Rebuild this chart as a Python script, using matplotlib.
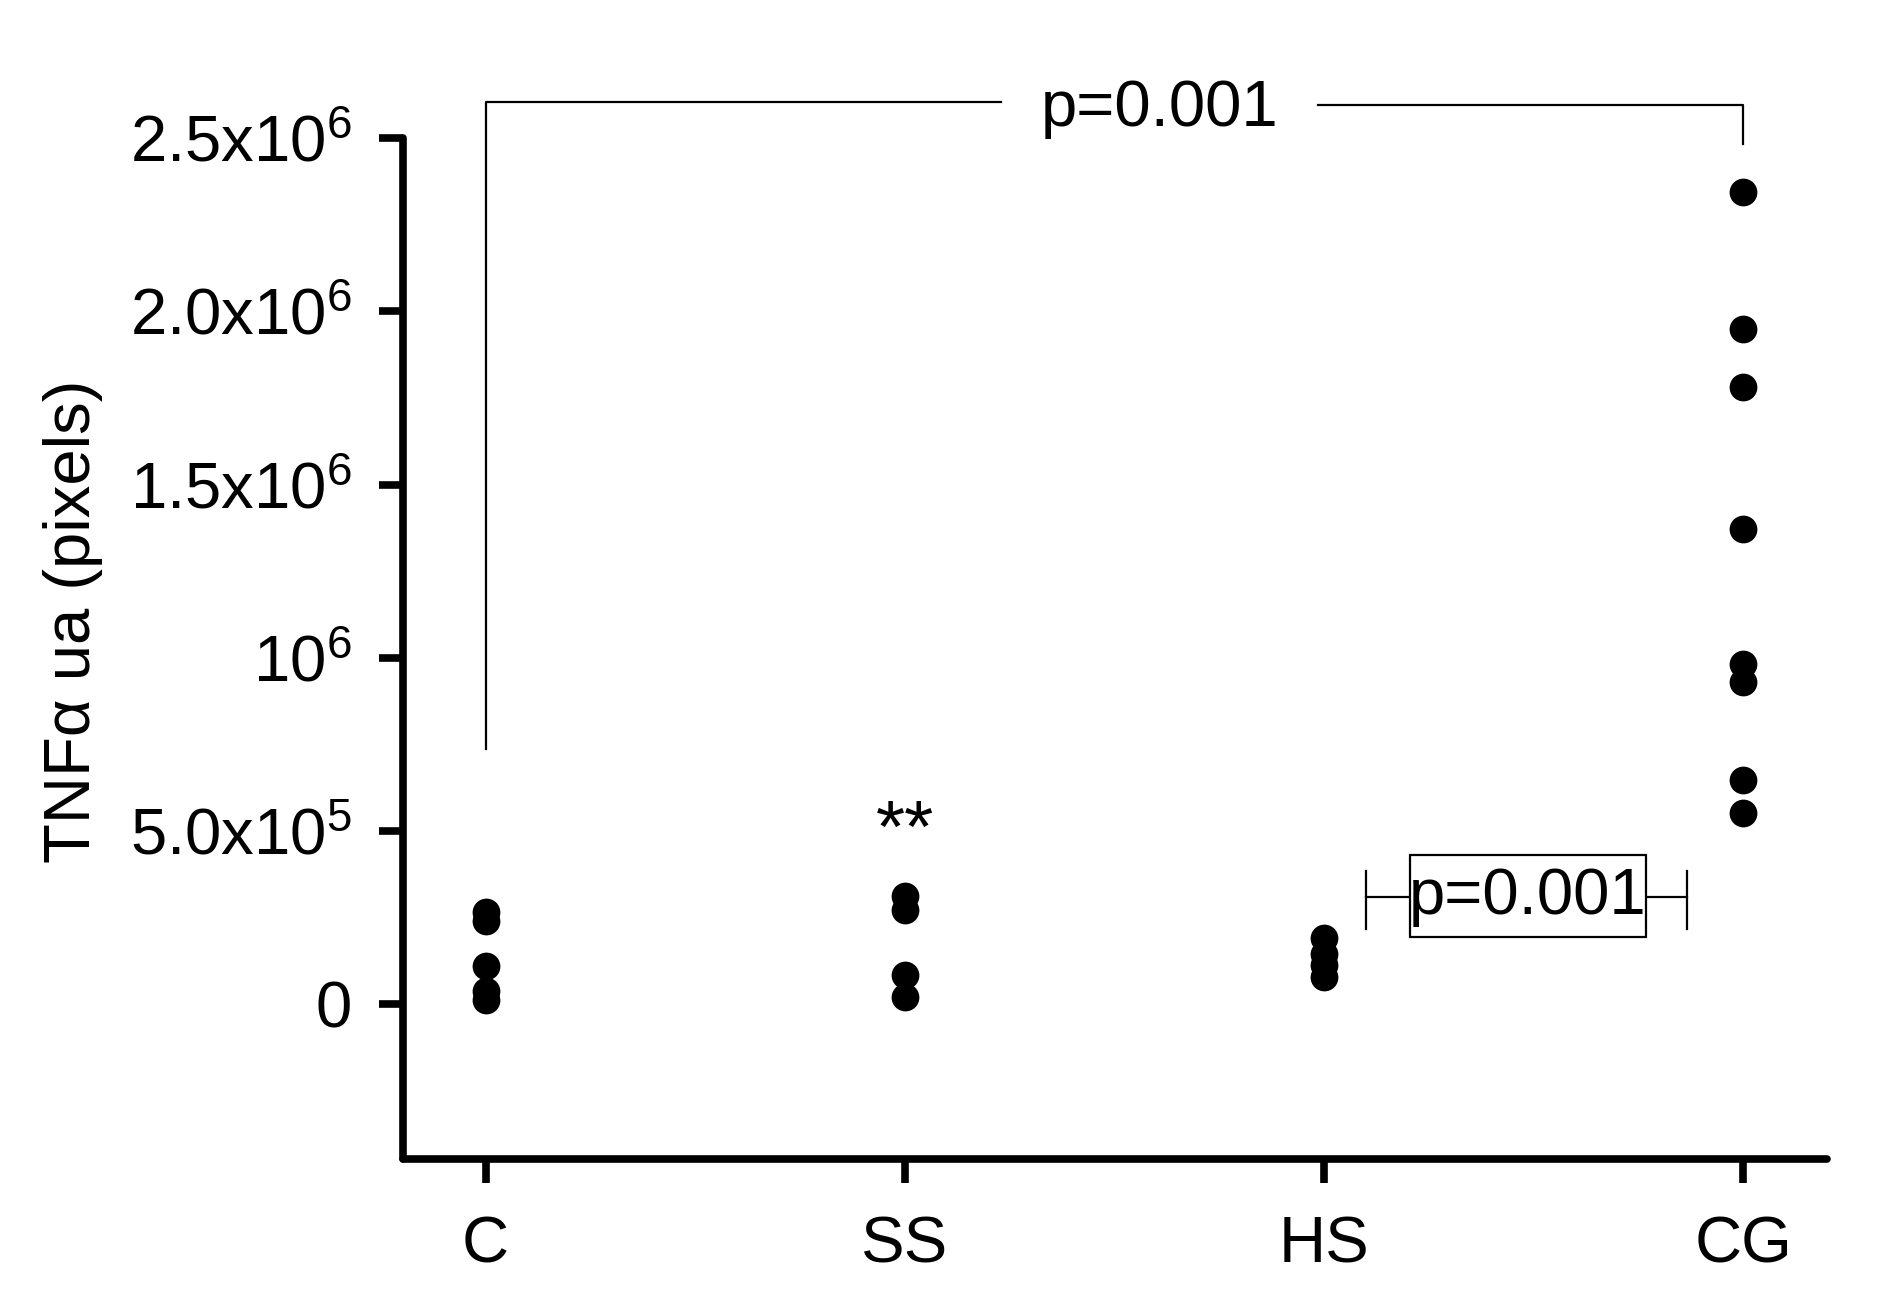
import matplotlib
matplotlib.use("Agg")
from matplotlib import pyplot as plt
from matplotlib.patches import Rectangle

plt.rcParams['font.family'] = ['Liberation Sans', 'DejaVu Sans']
plt.rcParams['mathtext.fontset'] = 'custom'
plt.rcParams['mathtext.rm'] = 'Liberation Sans'
plt.rcParams['mathtext.it'] = 'Liberation Sans'

groups = ['C', 'SS', 'HS', 'CG']
c_vals = [268e3, 242e3, 110e3, 40e3, 14e3]
ss_vals = [314e3, 271e3, 84e3, 20e3]
hs_vals = [192e3, 145e3, 115e3, 80e3]
cg_vals = [2.345e6, 1.950e6, 1.781e6, 1.373e6, 0.982e6, 0.930e6, 0.647e6, 0.553e6]
values = [c_vals, ss_vals, hs_vals, cg_vals]

yticks = [0, 5e5, 1e6, 1.5e6, 2e6, 2.5e6]
ytick_labels = ['0', '5.0x10$^{5}$', '10$^{6}$', '1.5x10$^{6}$', '2.0x10$^{6}$', '2.5x10$^{6}$']
p_text = 'p=0.001'
star_text = '**'

fig = plt.figure(figsize=(18.79, 13.09), dpi=100)
ax = fig.add_axes([0.2145, 0.1146, 0.7578, 0.78])

for i, vals in enumerate(values):
    ax.plot([i] * len(vals), vals, 'o', color='black', markersize=20,
            markeredgewidth=0, clip_on=False, zorder=3)

ax.set_xlim(-0.197, 3.2)
ax.set_ylim(-0.446e6, 2.5e6)
ax.set_xticks(range(len(groups)))
ax.set_xticklabels(groups)
ax.set_yticks(yticks)
ax.set_yticklabels(ytick_labels)

for s in ['top', 'right']:
    ax.spines[s].set_visible(False)
for s in ['left', 'bottom']:
    ax.spines[s].set_linewidth(5.5)
    ax.spines[s].set_capstyle('round')
ax.tick_params(axis='both', length=17, width=5.5, labelsize=47, direction='out')
ax.tick_params(axis='y', pad=20)
ax.tick_params(axis='x', pad=24)

ax.set_ylabel('TNFα ua (pixels)', fontsize=47)
ax.yaxis.set_label_coords(-0.211, 0.527)

# top bracket C vs CG
lw = 1.6
ax.plot([0, 0, 1.229], [0.736e6, 2.604e6, 2.604e6], color='black', lw=lw, clip_on=False)
ax.plot([1.986, 3, 3], [2.595e6, 2.595e6, 2.483e6], color='black', lw=lw, clip_on=False)
ax.text(1.609, 2.585e6, p_text, fontsize=47, ha='center', va='center', clip_on=False)

# HS vs CG bracket
ax.plot([2.1, 2.866], [311e3, 311e3], color='black', lw=lw, zorder=1)
ax.plot([2.1, 2.1], [218e3, 384e3], color='black', lw=lw)
ax.plot([2.866, 2.866], [218e3, 384e3], color='black', lw=lw)
ax.add_patch(Rectangle((2.206, 194e3), 0.563, 238e3, facecolor='white',
                       edgecolor='black', linewidth=1.6, zorder=2))
ax.text(2.487, 311e3, p_text, fontsize=47, ha='center', va='center', zorder=3)

ax.text(1, 495e3, star_text, fontsize=54, ha='center', va='center')

fig.savefig('out.png', dpi=100)
